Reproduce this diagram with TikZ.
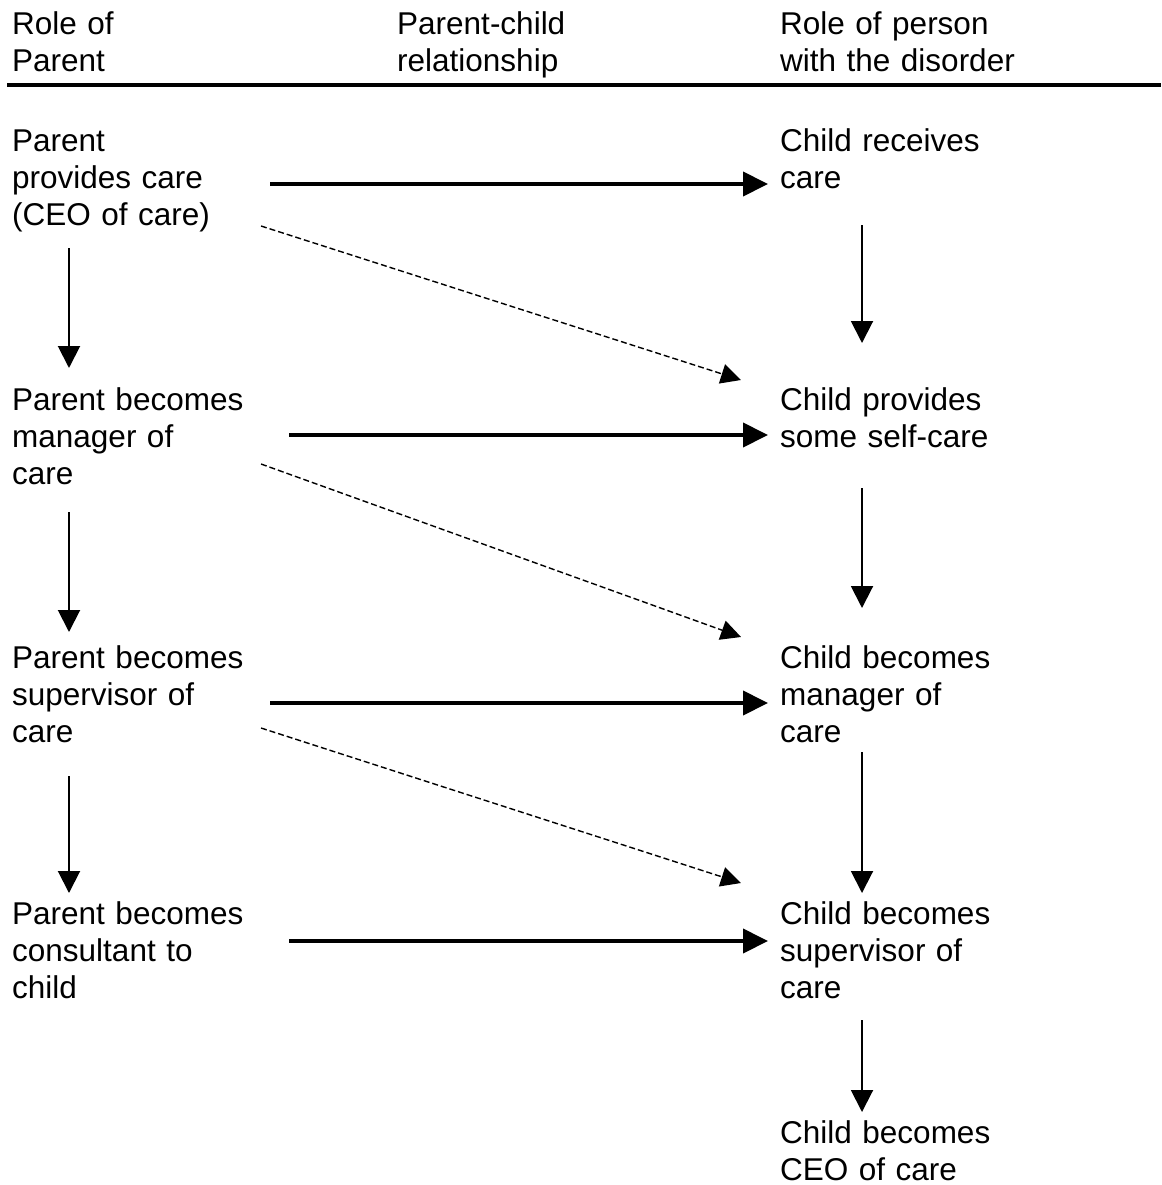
\documentclass[tikz,border=0pt]{standalone}
\usepackage{fontspec}
\setmainfont{Liberation Sans}
\usetikzlibrary{arrows.meta}

\begin{document}
\begin{tikzpicture}[x=1pt, y=-1pt,
  every node/.style={inner sep=0pt, anchor=base west, text width=280pt, align=left,
    font=\fontsize{31.5}{37}\selectfont},
  solidflow/.style={line width=4pt, -{Triangle[length=25pt,width=24pt]}},
  stepdown/.style={line width=2pt, -{Triangle[length=22pt,width=22pt]}},
  hintflow/.style={line width=1.4pt, dash pattern=on 6pt off 3pt, -{Triangle[length=20pt,width=20pt]}}]
 \useasboundingbox (0,0) rectangle (1161,1185);
 % column heads
 \node (hp) at (12,35)  {Role of\\Parent};
 \node (hr) at (397,35) {Parent-child\\relationship};
 \node (hc) at (780,35) {Role of person\\with the disorder};
 \draw[line width=4pt] (7,85) -- (1161,85);
 % role of parent
 \node (pl1) at (12,152) {Parent\\provides care\\(CEO of care)};
 \node (pl2) at (12,410) {Parent becomes\\manager of\\care};
 \node (pl3) at (12,668) {Parent becomes\\supervisor of\\care};
 \node (pl4) at (12,924) {Parent becomes\\consultant to\\child};
 % role of child
 \node (cr1) at (780,152)  {Child receives\\care};
 \node (cr2) at (780,410)  {Child provides\\some self-care};
 \node (cr3) at (780,668)  {Child becomes\\manager of\\care};
 \node (cr4) at (780,924)  {Child becomes\\supervisor of\\care};
 \node (cr5) at (780,1143) {Child becomes\\CEO of care};
 \path[solidflow]
  ([shift={(258,32)}]pl1.base west) edge ([shift={(-12,32)}]cr1.base west)
  ([shift={(277,25)}]pl2.base west) edge ([shift={(-12,25)}]cr2.base west)
  ([shift={(258,35)}]pl3.base west) edge ([shift={(-12,35)}]cr3.base west)
  ([shift={(277,17)}]pl4.base west) edge ([shift={(-12,17)}]cr4.base west)
 ;
 \path[hintflow]
  ([shift={(249,74)}]pl1.base west) edge ([shift={(-39,-30)}]cr2.base west)
  ([shift={(249,54)}]pl2.base west) edge ([shift={(-39,-31)}]cr3.base west)
  ([shift={(249,60)}]pl3.base west) edge ([shift={(-39,-41)}]cr4.base west)
 ;
 \path[stepdown]
  ([shift={(57,96)}]pl1.base west)  edge ([shift={(57,-42)}]pl2.base west)
  ([shift={(57,102)}]pl2.base west) edge ([shift={(57,-36)}]pl3.base west)
  ([shift={(57,108)}]pl3.base west) edge ([shift={(57,-31)}]pl4.base west)
  ([shift={(82,73)}]cr1.base west)  edge ([shift={(82,-67)}]cr2.base west)
  ([shift={(82,78)}]cr2.base west)  edge ([shift={(82,-60)}]cr3.base west)
  ([shift={(82,84)}]cr3.base west)  edge ([shift={(82,-31)}]cr4.base west)
  ([shift={(82,96)}]cr4.base west)  edge ([shift={(82,-31)}]cr5.base west)
 ;
\end{tikzpicture}
\end{document}
